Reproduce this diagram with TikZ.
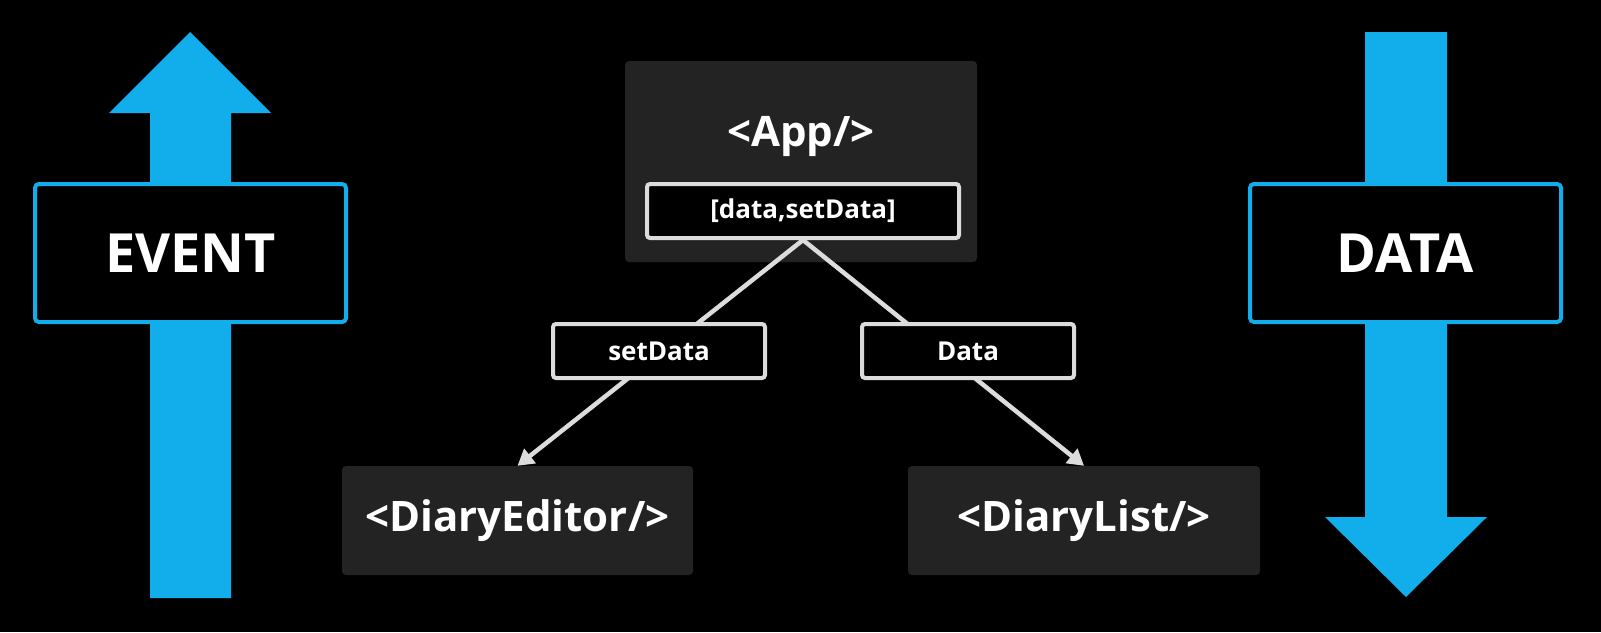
\documentclass[tikz,border=0pt]{standalone}
\usepackage{fontspec}
\setmainfont{Open Sans}
\usetikzlibrary{arrows.meta}
\definecolor{cyanc}{HTML}{12AEEB}
\definecolor{boxg}{HTML}{232323}
\definecolor{lineg}{HTML}{DCDCDC}
\begin{document}
\begin{tikzpicture}[x=1pt,y=-1pt,
  flowarrow/.style={fill=cyanc},
  sidebox/.style={draw=cyanc,line width=4pt,fill=black,rounded corners=4pt,
    minimum width=311pt,minimum height=138pt,inner sep=0pt,text=white,
    font=\fontsize{54}{60}\selectfont\bfseries},
  compbox/.style={fill=boxg,rounded corners=4pt,inner sep=0pt,text=white,
    font=\fontsize{42}{48}\selectfont\bfseries},
  tagbox/.style={draw=lineg,line width=4pt,fill=black,rounded corners=3pt,
    minimum height=54pt,inner sep=0pt,text=white,
    font=\fontsize{26}{30}\selectfont\bfseries},
  conn/.style={draw=lineg,line width=4.5pt,-{Triangle[length=16pt,width=18pt]}}]
\fill[black] (0,0) rectangle (1601,632);
\useasboundingbox (0,0) rectangle (1601,632);
% big arrows
\fill[flowarrow] (190,32) -- (271,113) -- (231,113) -- (231,598) -- (150,598) -- (150,113) -- (109,113) -- cycle;
\fill[flowarrow] (1365,32) -- (1447,32) -- (1447,517) -- (1487,517) -- (1406,597) -- (1325,517) -- (1365,517) -- cycle;
\node[sidebox] (event) at (190.5,253) {EVENT};
\node[sidebox] (datab) at (1405.5,253) {DATA};
% components
\node[compbox,minimum width=352pt,minimum height=201pt] (app) at (801,161.5) {};
\node[compbox] (apptxt) at (801,136) {<App/>};
\node[tagbox,minimum width=312pt] (state) at (803,211) {[data,setData]};
\node[compbox,minimum width=351pt,minimum height=109pt] (editor) at (517.5,520.5) {<DiaryEditor/>};
\node[compbox,minimum width=352pt,minimum height=109pt] (list) at (1084,520.5) {<DiaryList/>};
% connectors
\draw[conn] (state.south) -- (editor.north);
\draw[conn] (state.south) -- (list.north);
\node[tagbox,minimum width=212pt] (setd) at (659,351) {setData};
\node[tagbox,minimum width=212pt] (dat) at (968,351) {Data};
\end{tikzpicture}
\end{document}
